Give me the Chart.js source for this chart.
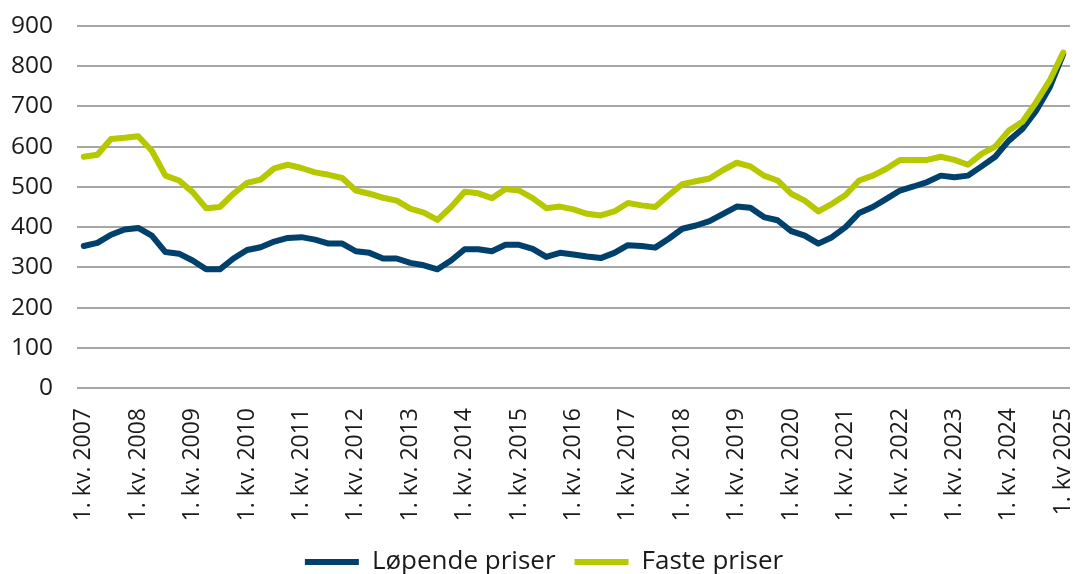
<!DOCTYPE html>
<html>
<head>
<meta charset="utf-8">
<script src="https://cdn.jsdelivr.net/npm/chart.js@4.4.1/dist/chart.umd.min.js"></script>
<style>
  html, body { margin: 0; padding: 0; background: #ffffff; }
  #wrap { width: 1077px; height: 574px; position: relative; }
</style>
</head>
<body>
<div id="wrap"><canvas id="c" width="1077" height="574"></canvas></div>
<script>
// Quarters 2007 Q1 .. 2025 Q1
const years = [2007,2008,2009,2010,2011,2012,2013,2014,2015,2016,2017,2018,2019,2020,2021,2022,2023,2024,2025];
const categories = [];
years.forEach(y => {
  for (let q = 1; q <= 4; q++) {
    if (y === 2025 && q > 1) break;
    categories.push(y === 2025 ? q + ". kv " + y : q + ". kv. " + y);
  }
});

const lopendePriser = [
  353, 361, 381, 394, 398, 379, 338, 334, 317, 295,
  295, 322, 343, 350, 364, 373, 375, 369, 359, 359,
  340, 336, 322, 322, 311, 305, 295, 317, 345, 345,
  340, 356, 356, 346, 326, 336, 332, 327, 323, 336,
  355, 353, 349, 371, 396, 404, 415, 433, 451, 448,
  425, 417, 390, 379, 359, 375, 400, 435, 450, 470,
  491, 501, 512, 528, 524, 528, 551, 575, 615, 644,
  689, 747, 830
];

const fastePriser = [
  575, 580, 619, 622, 626, 590, 528, 516, 487, 447,
  450, 483, 510, 518, 546, 555, 547, 536, 530, 522,
  491, 483, 473, 466, 446, 436, 418, 450, 488, 484,
  472, 495, 491, 472, 447, 451, 444, 433, 429, 439,
  460, 454, 450, 479, 507, 514, 521, 542, 560, 551,
  528, 516, 483, 466, 439, 458, 480, 516, 528, 545,
  567, 567, 567, 575, 567, 555, 582, 600, 640, 662,
  710, 764, 834
];

const yTicks = [0, 100, 200, 300, 400, 500, 600, 700, 800, 900];

const BLUE = '#00406c';
const GREEN = '#b5c800';
const FONT = "'Open Sans', 'Noto Sans', sans-serif";

// nudge the legend horizontally so it is centred like the reference
const legendNudge = {
  id: 'legendNudge',
  beforeDraw(chart) {
    const lg = chart.legend;
    if (lg) { lg.left += 9; lg.right += 9; }
  },
  afterDraw(chart) {
    const lg = chart.legend;
    if (lg) { lg.left -= 9; lg.right -= 9; }
  }
};

new Chart(document.getElementById('c'), {
  type: 'line',
  data: {
    labels: categories,
    datasets: [
      {
        label: 'Løpende priser',
        data: lopendePriser,
        borderColor: BLUE,
        backgroundColor: BLUE,
        borderWidth: 6,
        borderCapStyle: 'round',
        borderJoinStyle: 'round',
        pointRadius: 0,
        tension: 0,
        order: 2
      },
      {
        label: 'Faste priser',
        data: fastePriser,
        borderColor: GREEN,
        backgroundColor: GREEN,
        borderWidth: 6,
        borderCapStyle: 'round',
        borderJoinStyle: 'round',
        pointRadius: 0,
        tension: 0,
        order: 1
      }
    ]
  },
  options: {
    responsive: false,
    devicePixelRatio: 1,
    animation: false,
    layout: { padding: { left: 0, right: 7, top: 26, bottom: -11 } },
    scales: {
      x: {
        type: 'category',
        offset: true,
        grid: { display: false, drawTicks: false },
        border: { display: false },
        afterFit: (axis) => { axis.height = 142; axis.paddingLeft = 0; axis.paddingRight = 0; },
        ticks: {
          autoSkip: false,
          maxRotation: 90,
          minRotation: 90,
          padding: 20,
          color: '#1a1a1a',
          font: { family: FONT, size: 23 },
          callback: function (value, index) {
            return index % 4 === 0 ? categories[index] : '';
          }
        }
      },
      y: {
        min: yTicks[0],
        max: yTicks[yTicks.length - 1],
        afterBuildTicks: (axis) => { axis.ticks = yTicks.map(v => ({ value: v })); },
        afterFit: (axis) => { axis.width = 77; axis.paddingTop = 0; axis.paddingBottom = 0; },
        grid: { color: '#a6a6a6', lineWidth: 2, drawTicks: false },
        border: { display: false },
        ticks: {
          padding: 24,
          color: '#1a1a1a',
          font: { family: FONT, size: 24.5 }
        }
      }
    },
    plugins: {
      title: { display: false },
      tooltip: { enabled: false },
      legend: {
        position: 'bottom',
        labels: {
          usePointStyle: true,
          pointStyle: 'line',
          pointStyleWidth: 54,
          padding: 19,
          color: '#1a1a1a',
          font: { family: FONT, size: 26 },
          sort: (a, b) => a.datasetIndex - b.datasetIndex
        }
      }
    }
  },
  plugins: [legendNudge]
});
</script>
</body>
</html>
